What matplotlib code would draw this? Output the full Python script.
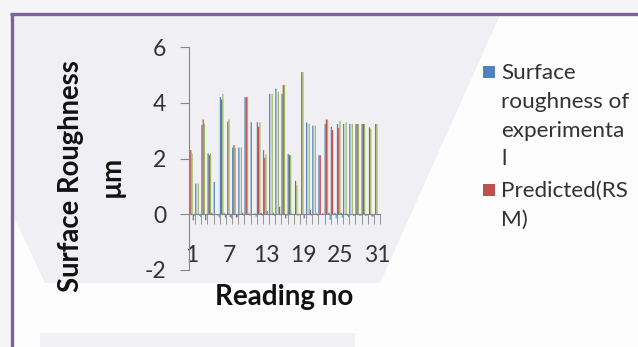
import matplotlib
matplotlib.use("Agg")
import matplotlib.pyplot as plt
import numpy as np
from matplotlib.patches import Polygon, Rectangle
from matplotlib.lines import Line2D

plt.rcParams['font.family'] = ['Lato', 'DejaVu Sans']
plt.rcParams['axes.unicode_minus'] = False

# letture 1..31
letture = np.arange(1, 32)

# rugosità sperimentale (blu)
sperimentale = [2.06, 1.10, 3.20, 2.18, 1.16, 4.20, 0.00, 2.39, 2.39, 4.20,
                3.30, 3.30, 2.30, 4.32, 4.51, 4.32, 2.16, 0.00, 0.00, 3.30,
                3.18, 2.12, 3.24, 3.14, 3.24, 3.24, 3.24, 3.24, 3.24, 0.00, 0.00]
# predetto RSM (rosso)
predetto = [2.30, 0.00, 3.40, 2.12, 0.00, 4.12, 3.32, 2.48, 0.00, 4.20,
            0.00, 3.14, 2.03, 0.00, 0.00, 4.64, 2.12, 1.20, 5.10, 0.00,
            0.00, 2.12, 3.40, 3.02, 3.09, 0.00, 0.00, 3.24, 3.24, 3.12, 3.24]
# serie aggiuntive (verde, viola, azzurro)
serie3 = [2.18, 1.10, 3.25, 2.18, 0.00, 4.32, 3.40, 2.39, 2.39, 4.20,
          0.00, 3.30, 2.15, 4.32, 4.40, 4.64, 2.12, 1.04, 5.10, 3.24,
          3.18, 0.00, 3.40, 0.00, 3.35, 3.30, 3.24, 3.24, 3.24, 3.07, 3.24]
serie4 = [-0.22, -0.05, -0.22, 0.05, -0.05, 0.04, -0.10, -0.12, 0.05, 0.03,
          0.03, 0.05, 0.12, 0.05, 0.27, -0.15, 0.02, -0.05, -0.15, 0.15,
          0.03, 0.03, 0.05, 0.05, 0.05, -0.05, -0.05, -0.05, -0.05, -0.08, -0.03]
serie5 = [-0.05, -0.10, -0.03, -0.05, -0.12, -0.12, -0.15, -0.10, -0.05, -0.05,
          -0.08, -0.05, -0.03, -0.05, -0.03, -0.05, -0.03, -0.03, -0.03, -0.05,
          -0.05, -0.03, -0.20, -0.15, -0.12, -0.10, -0.05, -0.05, -0.05, -0.08, -0.03]

colori = ['#4F81BD', '#C0504D', '#9BBB59', '#8064A2', '#4BACC6']
tutte = [sperimentale, predetto, serie3, serie4, serie5]

fig = plt.figure(figsize=(6.38, 3.47), dpi=100, facecolor='white')

# sfondo della slide
W, H = 638, 347
def px(x, y):
    return (x / W, 1 - y / H)

fig.patches.append(Rectangle((0, 0), 1, 1, transform=fig.transFigure,
                             facecolor='#F5F5F7', edgecolor='none', zorder=-3))
fig.patches.append(Polygon([px(13, 15), px(638, 15), px(638, 347), px(13, 347)],
                           closed=True, transform=fig.transFigure,
                           facecolor='#FDFDFD', edgecolor='none', zorder=-2))
fig.patches.append(Polygon([px(13, 15), px(500, 15), px(380, 283), px(45, 283), px(13, 215)],
                           closed=True, transform=fig.transFigure,
                           facecolor='#F0F0F4', edgecolor='none', zorder=-1))
fig.patches.append(Polygon([px(40, 333), px(355, 333), px(355, 347), px(40, 347)],
                           closed=True, transform=fig.transFigure,
                           facecolor='#F2F2F4', edgecolor='none', zorder=-1))
# bordo viola
fig.lines.append(Line2D([11.5 / W, 11.5 / W], [0, 1 - 13.5 / H], transform=fig.transFigure,
                        color='#7B63A0', linewidth=2.4, solid_capstyle='butt'))
fig.lines.append(Line2D([10 / W, 1], [1 - 13.5 / H, 1 - 13.5 / H], transform=fig.transFigure,
                        color='#7B63A0', linewidth=2.4, solid_capstyle='butt'))

ax = fig.add_axes([189 / W, 1 - 270 / H, 191 / W, 223 / H])
ax.patch.set_alpha(0)

larghezza = 0.2
offset = [-0.4, -0.2, 0.0, 0.2, 0.4]
for valori, col, off in zip(tutte, colori, offset):
    ax.bar(letture + off, valori, width=larghezza, color=col, linewidth=0, snap=False)

ax.set_xlim(0.5, 31.5)
ax.set_ylim(-2, 6)

grigio = '#868686'
for s in ['top', 'right']:
    ax.spines[s].set_visible(False)
ax.spines['left'].set_color(grigio)
ax.spines['bottom'].set_color(grigio)
ax.spines['bottom'].set_position(('data', 0))

ax.set_yticks([-2, 0, 2, 4, 6])
ax.tick_params(axis='y', length=6.5, color=grigio, labelsize=16.5, pad=10, labelcolor='#333333')

ax.set_xticks([1, 7, 13, 19, 25, 31])
ax.set_xticks(np.arange(1.5, 31.6, 1), minor=True)
ax.tick_params(axis='x', which='major', length=0, labelsize=16.5, pad=22, labelcolor='#333333')
ax.tick_params(axis='x', which='minor', length=7, color=grigio, direction='out')

# titoli degli assi
fig.text(71 / W, 1 - 176 / H, 'Surface Roughness', rotation=90, fontsize=19.8,
         fontweight='bold', ha='center', va='center', color='#111111')
fig.text(112 / W, 1 - 176 / H, 'µm', rotation=90, fontsize=19.8,
         fontweight='bold', ha='center', va='center', color='#111111')
fig.text(284 / W, 1 - 297 / H, 'Reading no', fontsize=20,
         fontweight='bold', ha='center', va='center', color='#111111')

# legenda
voci = [('Surface\nroughness of\nexperimenta\nl', colori[0], 63),
        ('Predicted(RS\nM)', colori[1], 181)]
for testo, col, y in voci:
    fig.patches.append(Rectangle(px(483, y + 15), 12 / W, 12 / H, transform=fig.transFigure,
                                 facecolor=col, edgecolor='none'))
    fig.text(501 / W, 1 - y / H, testo, fontsize=16.2, ha='left', va='top',
             linespacing=1.55, color='#333333')

fig.savefig('out.png', dpi=100, facecolor=fig.get_facecolor())
